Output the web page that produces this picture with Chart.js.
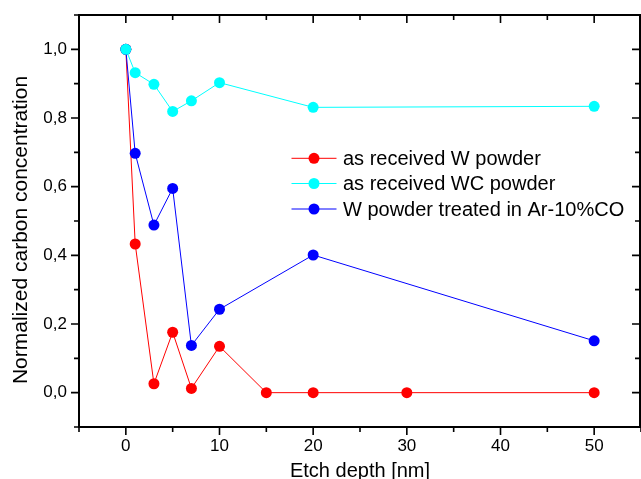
<!DOCTYPE html>
<html>
<head>
<meta charset="utf-8">
<script src="https://cdn.jsdelivr.net/npm/chart.js@4.4.1/dist/chart.umd.min.js"></script>
<style>
  html, body { margin: 0; padding: 0; background: #ffffff; }
  #wrap { width: 641px; height: 479px; }
</style>
</head>
<body>
<div id="wrap"><canvas id="chart" width="641" height="479"></canvas></div>
<script>
// Etch depth [nm] for each measurement
const depthW  = [0, 1, 3, 5, 7, 10, 15, 20, 30, 50];
const depthWC = [0, 1, 3, 5, 7, 10, 20, 50];
const depthCO = [0, 1, 3, 5, 7, 10, 20, 50];

// Normalized carbon concentration
const carbonW  = [1.0, 0.433, 0.026, 0.176, 0.0125, 0.135, 0.0, 0.0, 0.0, 0.0];
const carbonWC = [1.0, 0.932, 0.898, 0.819, 0.850, 0.903, 0.831, 0.834];
const carbonCO = [1.0, 0.697, 0.488, 0.595, 0.1375, 0.243, 0.401, 0.151];

const seriesNames = ['as received W powder', 'as received WC powder', 'W powder treated in Ar-10%CO'];
const yAxisTitle = 'Normalized carbon concentration';
const xAxisTitle = 'Etch depth [nm]';

// Axis ticks
const xMajorTicks = [0, 10, 20, 30, 40, 50];
const xMinorTicks = [-5, 5, 15, 25, 35, 45, 55];
const yMajorTicks = [0.0, 0.2, 0.4, 0.6, 0.8, 1.0];
const yMinorTicks = [-0.1, 0.1, 0.3, 0.5, 0.7, 0.9, 1.1];

const FONT = "'Liberation Sans', Arial, Helvetica, sans-serif";

function pts(xs, ys) { return xs.map((x, i) => ({ x: x, y: ys[i] })); }

function series(label, xs, ys, color, order) {
  return {
    label: label,
    data: pts(xs, ys),
    borderColor: color,
    backgroundColor: color,
    borderWidth: 1,
    pointRadius: 5.5,
    pointBorderWidth: 0,
    pointBackgroundColor: color,
    pointHoverRadius: 5.5,
    tension: 0,
    order: order
  };
}

// Frame on all four sides, outward ticks on left/bottom, inward on top/right
const framePlugin = {
  id: 'frame',
  afterDraw(chart) {
    const { ctx, chartArea: a, scales: { x, y } } = chart;
    ctx.save();
    ctx.strokeStyle = '#000';
    ctx.lineCap = 'butt';
    ctx.lineWidth = 2;
    ctx.beginPath();
    ctx.moveTo(a.left, a.top); ctx.lineTo(a.right, a.top);
    ctx.moveTo(a.left, a.bottom); ctx.lineTo(a.right, a.bottom);
    ctx.moveTo(a.left, a.top - 1); ctx.lineTo(a.left, a.bottom + 1);
    ctx.moveTo(a.right - 1, a.top - 1); ctx.lineTo(a.right - 1, a.bottom + 1);
    ctx.stroke();

    ctx.lineWidth = 1.6;
    ctx.beginPath();
    const xt = (v, len) => {
      const px = x.getPixelForValue(v);
      ctx.moveTo(px, a.bottom); ctx.lineTo(px, a.bottom + len);
      ctx.moveTo(px, a.top); ctx.lineTo(px, a.top + len);
    };
    const yt = (v, len) => {
      const py = y.getPixelForValue(v);
      ctx.moveTo(a.left, py); ctx.lineTo(a.left - len, py);
      ctx.moveTo(a.right - 1, py); ctx.lineTo(a.right - 1 - len, py);
    };
    xMajorTicks.forEach(v => xt(v, 8));
    xMinorTicks.forEach(v => xt(v, 5));
    yMajorTicks.forEach(v => yt(v, 8));
    yMinorTicks.forEach(v => yt(v, 5));
    ctx.stroke();

    // vertical axis title
    ctx.fillStyle = '#000';
    ctx.font = '21px ' + FONT;
    ctx.textAlign = 'center';
    ctx.textBaseline = 'middle';
    ctx.translate(21, 230);
    ctx.rotate(-Math.PI / 2);
    ctx.fillText(yAxisTitle, 0, 0);
    ctx.restore();
  }
};

// Legend box inside the plot
const legendPlugin = {
  id: 'innerLegend',
  afterDraw(chart) {
    const { ctx } = chart;
    const rows = [158.3, 183.5, 209];
    const lineX0 = 291.5, lineX1 = 336.5, markX = 314, textX = 343;
    ctx.save();
    ctx.font = '20px ' + FONT;
    ctx.textBaseline = 'middle';
    ctx.textAlign = 'left';
    chart.data.datasets.forEach((ds, i) => {
      const ry = rows[i];
      ctx.strokeStyle = ds.borderColor;
      ctx.lineWidth = 1;
      ctx.beginPath();
      ctx.moveTo(lineX0, ry); ctx.lineTo(lineX1, ry);
      ctx.stroke();
      ctx.fillStyle = ds.backgroundColor;
      ctx.beginPath();
      ctx.arc(markX, ry, 5.5, 0, Math.PI * 2);
      ctx.fill();
      ctx.fillStyle = '#000';
      ctx.fillText(ds.label, textX, ry + 1);
    });
    ctx.restore();
  }
};

new Chart(document.getElementById('chart'), {
  type: 'line',
  data: {
    datasets: [
      series(seriesNames[0], depthW, carbonW, '#ff0000', 2),
      series(seriesNames[1], depthWC, carbonWC, '#00ffff', 0),
      series(seriesNames[2], depthCO, carbonCO, '#0000ff', 1)
    ]
  },
  options: {
    responsive: false,
    animation: false,
    layout: { autoPadding: false, padding: { top: 15, right: 0, left: 0, bottom: 0 } },
    plugins: {
      legend: { display: false },
      tooltip: { enabled: false }
    },
    scales: {
      x: {
        type: 'linear',
        min: -5,
        max: 55,
        grid: { display: false, drawTicks: false },
        border: { display: false },
        afterBuildTicks: s => { s.ticks = xMajorTicks.map(v => ({ value: v })); },
        afterFit: s => { s.height = 52; s.paddingLeft = 0; s.paddingRight = 0; },
        ticks: {
          color: '#000',
          padding: 9,
          maxRotation: 0,
          autoSkip: false,
          font: { family: FONT, size: 17 },
          callback: v => String(v)
        },
        title: {
          display: true,
          text: xAxisTitle,
          color: '#000',
          padding: { top: 0, bottom: -2 },
          font: { family: FONT, size: 20, lineHeight: 1 }
        }
      },
      y: {
        type: 'linear',
        min: -0.1,
        max: 1.1,
        grid: { display: false, drawTicks: false },
        border: { display: false },
        afterBuildTicks: s => { s.ticks = yMajorTicks.map(v => ({ value: v })); },
        afterFit: s => { s.width = 79; s.paddingTop = 0; s.paddingBottom = 0; },
        ticks: {
          color: '#000',
          padding: 12,
          autoSkip: false,
          font: { family: FONT, size: 17 },
          callback: v => v.toFixed(1).replace('.', ',')
        },
        title: { display: false }
      }
    }
  },
  plugins: [framePlugin, legendPlugin]
});
</script>
</body>
</html>
